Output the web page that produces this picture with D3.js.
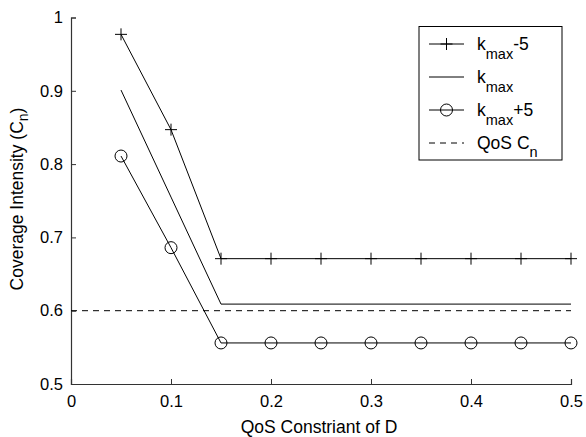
<html>
<head>
<script src="https://d3js.org/d3.v7.min.js"></script>
<style>
  body { margin: 0; background: #fff; }
  text { font-family: "Liberation Sans", Arial, sans-serif; fill: #000; }
</style>
</head>
<body>
<svg id="chart" width="586" height="437"></svg>
<script>
// values
const dValues   = [0.05, 0.10, 0.15, 0.20, 0.25, 0.30, 0.35, 0.40, 0.45, 0.50];
const kMinus5   = [0.977, 0.847, 0.671, 0.671, 0.671, 0.671, 0.671, 0.671, 0.671, 0.671];
const kMax      = [0.901, 0.755, 0.609, 0.609, 0.609, 0.609, 0.609, 0.609, 0.609, 0.609];
const kPlus5    = [0.811, 0.686, 0.556, 0.556, 0.556, 0.556, 0.556, 0.556, 0.556, 0.556];
const qosLevel  = 0.6;
const xTicks    = [0, 0.1, 0.2, 0.3, 0.4, 0.5];
const yTicks    = [0.5, 0.6, 0.7, 0.8, 0.9, 1];

const svg = d3.select('svg#chart');
const mLeft = 71, mRight = 571, mTop = 17.5, mBottom = 384;

const x = d3.scaleLinear().domain([0, 0.5]).range([mLeft, mRight]);
const y = d3.scaleLinear().domain([0.5, 1]).range([mBottom, mTop]);

// axes, matlab style: ticks pointing in, no box
const xAxis = d3.axisBottom(x).tickValues(xTicks).tickSize(-5).tickPadding(11)
    .tickFormat(d => d === 0 ? '0' : d3.format('.1f')(d));
const yAxis = d3.axisLeft(y).tickValues(yTicks).tickSize(-5).tickPadding(8)
    .tickFormat(d => d === 1 ? '1' : d3.format('.1f')(d));

const gx = svg.append('g').attr('transform', `translate(0,${mBottom})`).call(xAxis);
const gy = svg.append('g').attr('transform', `translate(${mLeft},0)`).call(yAxis);
[gx, gy].forEach(g => {
  g.select('.domain').attr('stroke', '#333').attr('stroke-width', 1.2);
  g.selectAll('.tick line').attr('stroke', '#333');
  g.selectAll('.tick text').style('font-size', '16.5px').attr('fill', '#000');
});
gx.selectAll('.tick text').attr('dy', '0.71em');

svg.append('text')
  .attr('x', 319).attr('y', 433)
  .attr('text-anchor', 'middle').style('font-size', '17.5px')
  .text('QoS Constriant of D');

const yl = svg.append('text')
  .attr('transform', `translate(23,199) rotate(-90)`)
  .attr('text-anchor', 'middle').style('font-size', '17.5px');
yl.append('tspan').text('Coverage Intensity (C');
yl.append('tspan').attr('dy', 5).style('font-size', '14px').text('n');
yl.append('tspan').attr('dy', -5).text(')');

const line = d3.line().x(d => x(d[0])).y(d => y(d[1]));
const pts = vals => dValues.map((d, i) => [d, vals[i]]);

// QoS dashed line
svg.append('path')
  .attr('d', line([[0, qosLevel], [0.5, qosLevel]]))
  .attr('fill', 'none').attr('stroke', '#000').attr('stroke-dasharray', '6,5');

[kMinus5, kMax, kPlus5].forEach(vals => {
  svg.append('path').attr('d', line(pts(vals)))
    .attr('fill', 'none').attr('stroke', '#000').attr('stroke-width', 1);
});

function plus(g, cx, cy) {
  g.append('path').attr('d', `M${cx - 6},${cy}H${cx + 6}M${cx},${cy - 6}V${cy + 6}`)
    .attr('stroke', '#000').attr('stroke-width', 1);
}
function circ(g, cx, cy) {
  g.append('circle').attr('cx', cx).attr('cy', cy).attr('r', 6)
    .attr('fill', 'none').attr('stroke', '#000').attr('stroke-width', 1);
}

pts(kMinus5).forEach(p => plus(svg, x(p[0]), y(p[1])));
pts(kPlus5).forEach(p => circ(svg, x(p[0]), y(p[1])));

// legend
const lg = svg.append('g');
lg.append('rect').attr('x', 419).attr('y', 26.5).attr('width', 143).attr('height', 133.5)
  .attr('fill', '#fff').attr('stroke', '#000').attr('stroke-width', 1);

const legendItems = [
  { sub: 'max', after: '-5', mark: 'plus' },
  { sub: 'max', after: '', mark: 'none' },
  { sub: 'max', after: '+5', mark: 'circle' },
  { qos: true }
];
legendItems.forEach((it, i) => {
  const ly = 44 + i * 33;
  const seg = lg.append('path').attr('d', `M429,${ly}H464`)
    .attr('fill', 'none').attr('stroke', '#000');
  if (it.qos) seg.attr('stroke-dasharray', '6,5');
  if (it.mark === 'plus') plus(lg, 446.5, ly);
  if (it.mark === 'circle') circ(lg, 446.5, ly);
  const t = lg.append('text').attr('x', 477).attr('y', ly + 6).style('font-size', '17.5px');
  if (it.qos) {
    t.append('tspan').text('QoS C');
    t.append('tspan').attr('dy', 8).style('font-size', '14.5px').text('n');
  } else {
    t.append('tspan').text('k');
    t.append('tspan').attr('dy', 9).style('font-size', '14.5px').text(it.sub);
    if (it.after) t.append('tspan').attr('dy', -9).text(it.after);
  }
});
</script>
</body>
</html>
